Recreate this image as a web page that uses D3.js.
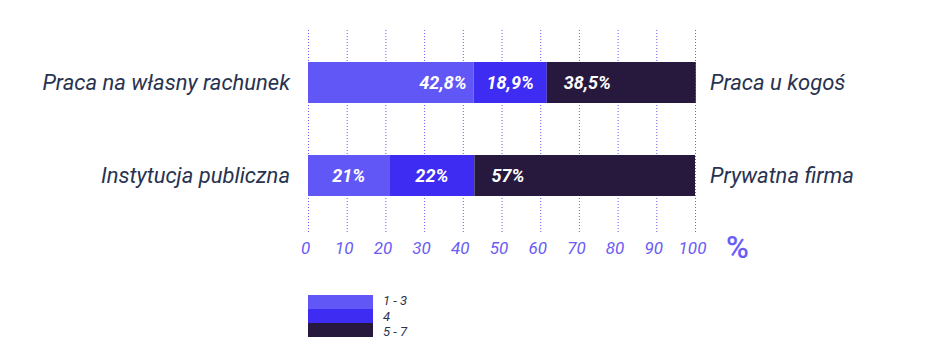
<!DOCTYPE html>
<html><head><meta charset="utf-8">
<script src="https://cdn.jsdelivr.net/npm/d3@7"></script>
<style>body{margin:0;background:#fff}svg{display:block}</style>
</head><body>
<script>
const leftLabels = ["Praca na własny rachunek", "Instytucja publiczna"];
const rightLabels = ["Praca u kogoś", "Prywatna firma"];
const seriesNames = ["1 - 3", "4", "5 - 7"];
const row1Values = [42.8, 18.9, 38.5];
const row2Values = [21, 22, 57];
const row1Texts = ["42,8%", "18,9%", "38,5%"];
const row2Texts = ["21%", "22%", "57%"];
const tickValues = [0, 10, 20, 30, 40, 50, 60, 70, 80, 90, 100];
const colors = ["#6157f6", "#3f2cf2", "#26193d"];

const W = 934, H = 360;
const svg = d3.select("body").append("svg").attr("width", W).attr("height", H);
const x = d3.scaleLinear().domain([0, 100]).range([308, 695]);
const y = d3.scaleBand().domain([0, 1]).range([62, 196]).paddingInner(52 / 93).paddingOuter(0);

// grid
svg.append("g").selectAll("line").data(tickValues).join("line")
  .attr("x1", d => x(d) + 0.5).attr("x2", d => x(d) + 0.5)
  .attr("y1", 30).attr("y2", 232)
  .attr("stroke", "#6a5cf4").attr("stroke-width", 1).attr("stroke-dasharray", "1,2");

// axis
const axis = d3.axisBottom(x).tickValues(tickValues).tickSize(0).tickPadding(0);
const ag = svg.append("g").attr("transform", "translate(0,254)").call(axis);
ag.select(".domain").remove();
ag.selectAll("text").attr("fill", "#6a5cf4").attr("font-family", "Roboto").attr("font-style", "italic")
  .attr("font-size", 17).attr("dy", 0).attr("dx", -3);
svg.append("text").attr("x", 726).attr("y", 258).text("%")
  .attr("fill", "#6a5cf4").attr("font-family", "Roboto").attr("font-weight", 500).attr("font-size", 31);

const rows = [
  {vals: row1Values, texts: row1Texts, align: ["end", "middle", "start"]},
  {vals: row2Values, texts: row2Texts, align: ["middle", "middle", "start"]}
];
rows.forEach((r, i) => {
  let acc = 0;
  const segs = r.vals.map((v, j) => { const s = {x0: acc, x1: acc + v, c: colors[j], t: r.texts[j], a: r.align[j]}; acc += v; return s; });
  const g = svg.append("g");
  g.selectAll("rect").data(segs).join("rect")
    .attr("x", d => x(d.x0)).attr("width", d => x(d.x1) - x(d.x0))
    .attr("y", y(i)).attr("height", y.bandwidth()).attr("fill", d => d.c);
  g.selectAll("text").data(segs).join("text")
    .attr("x", d => d.a === "end" ? x(d.x1) - 7 : d.a === "start" ? x(d.x0) + 17 : (x(d.x0) + x(d.x1)) / 2)
    .attr("text-anchor", d => d.a)
    .attr("y", y(i) + y.bandwidth() / 2).attr("dy", "0.36em")
    .attr("fill", "#fff").attr("font-family", "Roboto").attr("font-style", "italic").attr("font-weight", 700)
    .attr("font-size", 18).text(d => d.t);
  svg.append("text").attr("x", 290).attr("y", y(i) + y.bandwidth() / 2).attr("dy", "0.36em")
    .attr("text-anchor", "end").attr("fill", "#28334f").attr("font-family", "Roboto").attr("font-style", "italic")
    .attr("font-size", 22).text(leftLabels[i]);
  svg.append("text").attr("x", 710).attr("y", y(i) + y.bandwidth() / 2).attr("dy", "0.36em")
    .attr("fill", "#28334f").attr("font-family", "Roboto").attr("font-style", "italic")
    .attr("font-size", 22).text(rightLabels[i]);
});

// legend
const lg = svg.append("g").attr("transform", "translate(308,295)");
const legendTextY = [5.5, 21, 36.5];
seriesNames.forEach((n, j) => {
  lg.append("rect").attr("x", 0).attr("y", j * 14).attr("width", 65).attr("height", 14).attr("fill", colors[j]);
  lg.append("text").attr("x", 75).attr("y", legendTextY[j]).attr("dy", "0.36em")
    .attr("fill", "#28334f").attr("font-family", "Roboto").attr("font-style", "italic").attr("font-size", 13).text(n);
});
</script>
</body></html>
